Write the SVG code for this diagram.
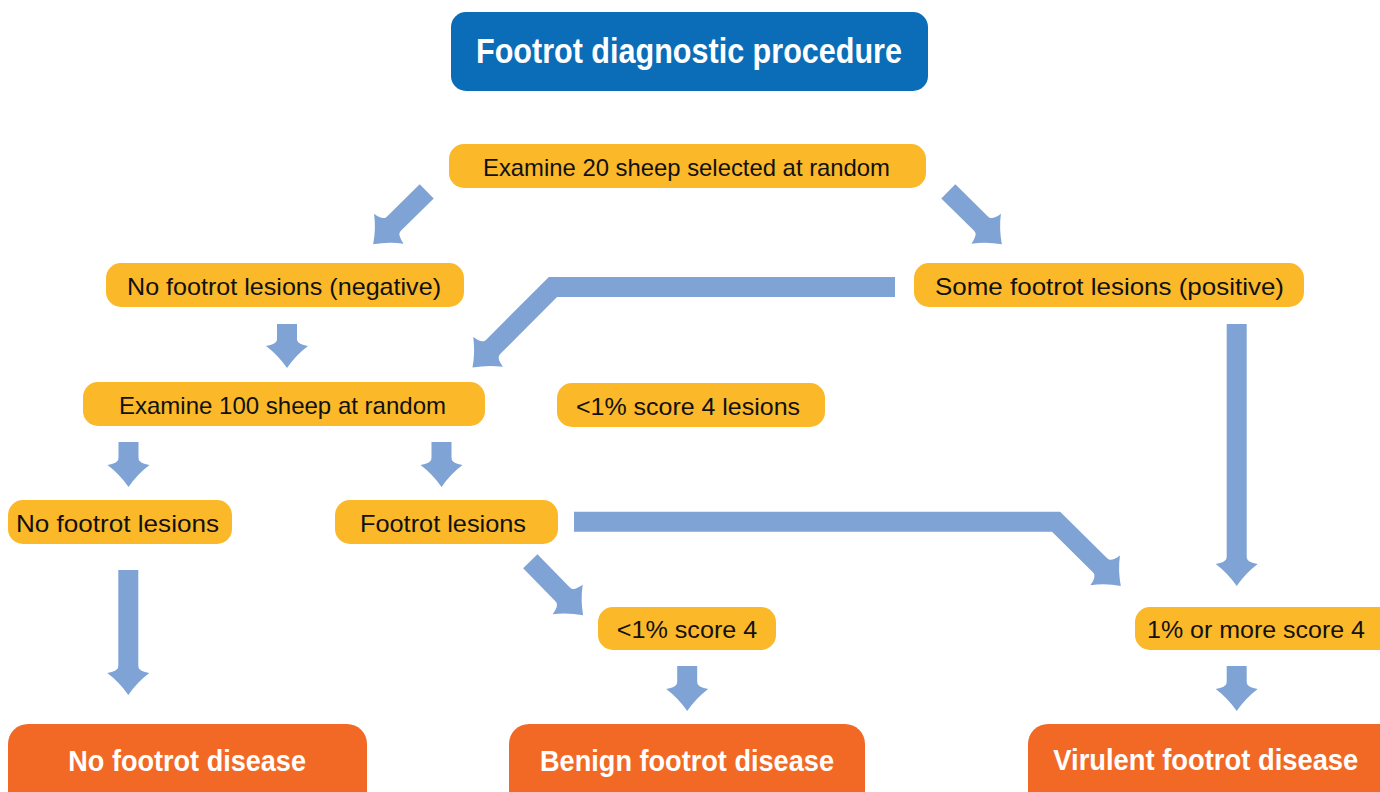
<svg xmlns="http://www.w3.org/2000/svg" width="1380" height="792" viewBox="0 0 1380 792">
<style>
.y rect{fill:#fbb829;}
.y text{font-family:"Liberation Sans",Arial,sans-serif;font-size:24px;fill:#111;}
.o rect{fill:#f26925;}
.o text{font-family:"Liberation Sans",Arial,sans-serif;font-size:30px;font-weight:bold;fill:#fff;}
.t rect{fill:#0b6db7;}
.t text{font-family:"Liberation Sans",Arial,sans-serif;font-size:35px;font-weight:bold;fill:#fff;}
.c path{fill:none;stroke:#7fa3d5;stroke-width:20;stroke-linejoin:miter;stroke-linecap:butt;marker-end:url(#ah);}
</style>
<defs>
<marker id="ah" markerUnits="userSpaceOnUse" viewBox="-2 -24 34 48" markerWidth="34" markerHeight="48" refX="0" refY="0" orient="auto" overflow="visible">
<path d="M-1,-10 L0,-10 Q4.5,-11 6,-21 Q15,-9 28,0 Q15,9 6,21 Q4.5,11 0,10 L-1,10 Z" fill="#7fa3d5"/>
</marker>
</defs>
<rect width="1380" height="792" fill="#fff"/>
<g id="connectors" class="c">
<path d="M426.7,191.3 L393.1,224.5"/>
<path d="M948.3,191.3 L981.9,224.5"/>
<path d="M895,287 L553,287 L492.3,347.7"/>
<path d="M287,324 L287,340"/>
<path d="M128.5,442 L128.5,459"/>
<path d="M441.5,442 L441.5,459"/>
<path d="M128.3,570 L128.3,667"/>
<path d="M530.3,561.3 L563.5,595.2"/>
<path d="M574,521.7 L1056,521.7 L1100.9,566.2"/>
<path d="M1236.7,324 L1236.7,558"/>
<path d="M1236.7,666 L1236.7,683"/>
<path d="M687.2,666 L687.2,683"/>
</g>
<g id="n_title" class="t"><rect x="451" y="12" width="477" height="79" rx="15"/><text x="476" y="63" textLength="426" lengthAdjust="spacingAndGlyphs">Footrot diagnostic procedure</text></g>
<g id="n_ex20" class="y"><rect x="449" y="144" width="477" height="44" rx="15"/><text x="483" y="176" textLength="407" lengthAdjust="spacingAndGlyphs">Examine 20 sheep selected at random</text></g>
<g id="n_neg" class="y"><rect x="106" y="263" width="358" height="44" rx="15"/><text x="127" y="295" textLength="314" lengthAdjust="spacingAndGlyphs">No footrot lesions (negative)</text></g>
<g id="n_pos" class="y"><rect x="914" y="263" width="390" height="44" rx="15"/><text x="935" y="295" textLength="349" lengthAdjust="spacingAndGlyphs">Some footrot lesions (positive)</text></g>
<g id="n_ex100" class="y"><rect x="83" y="382" width="402" height="44" rx="15"/><text x="119" y="414" textLength="327" lengthAdjust="spacingAndGlyphs">Examine 100 sheep at random</text></g>
<g id="n_lt1lesions" class="y"><rect x="557" y="383" width="268" height="44" rx="15"/><text x="576" y="415" textLength="224" lengthAdjust="spacingAndGlyphs">&lt;1% score 4 lesions</text></g>
<g id="n_nolesions" class="y"><rect x="8" y="500" width="224" height="44" rx="15"/><text x="16" y="532" textLength="203" lengthAdjust="spacingAndGlyphs">No footrot lesions</text></g>
<g id="n_lesions" class="y"><rect x="335" y="500" width="223" height="44" rx="15"/><text x="360" y="532" textLength="166" lengthAdjust="spacingAndGlyphs">Footrot lesions</text></g>
<g id="n_lt1" class="y"><rect x="598" y="607" width="178" height="43" rx="15"/><text x="616.7" y="638" textLength="140.6" lengthAdjust="spacingAndGlyphs">&lt;1% score 4</text></g>
<g id="n_ge1" class="y"><rect x="1135" y="607" width="260" height="43" rx="15"/><text x="1147" y="637.5" textLength="218" lengthAdjust="spacingAndGlyphs">1% or more score 4</text></g>
<g id="n_nodisease" class="o"><rect x="8" y="724" width="359" height="100" rx="20"/><text x="68.3" y="771" textLength="237.7" lengthAdjust="spacingAndGlyphs">No footrot disease</text></g>
<g id="n_benign" class="o"><rect x="509" y="724" width="356" height="100" rx="20"/><text x="540" y="771" textLength="294" lengthAdjust="spacingAndGlyphs">Benign footrot disease</text></g>
<g id="n_virulent" class="o"><rect x="1028" y="724" width="370" height="100" rx="20"/><text x="1053.3" y="770" textLength="305" lengthAdjust="spacingAndGlyphs">Virulent footrot disease</text></g>
</svg>
